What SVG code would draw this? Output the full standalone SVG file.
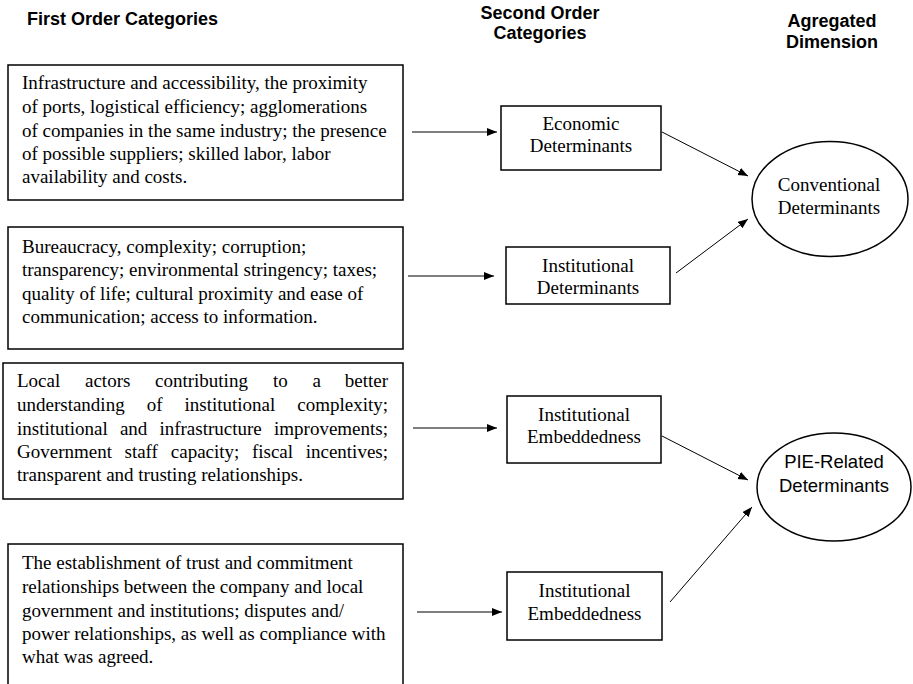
<svg xmlns="http://www.w3.org/2000/svg" width="913" height="684" viewBox="0 0 913 684">
<style>
.hdr{font-family:"Liberation Sans",Arial,sans-serif;font-weight:bold;font-size:18px;fill:#000}
.t{font-family:"Liberation Serif","Times New Roman",serif;font-size:19px;fill:#000}
.s{font-family:"Liberation Sans",Arial,sans-serif;font-size:18.5px;fill:#000}
.box{fill:#fff;stroke:#000;stroke-width:1.5}
.conn line{stroke:#000;stroke-width:1;marker-end:url(#ah)}
</style>
<defs>
<marker id="ah" markerUnits="userSpaceOnUse" markerWidth="11" markerHeight="9" refX="10" refY="4" orient="auto">
<path d="M0,0 L10,4 L0,8 z" fill="#000"/>
</marker>
</defs>
<rect width="913" height="684" fill="#fff"/>
<g id="headers">
<text class="hdr" x="27" y="25">First Order Categories</text>
<text class="hdr" x="540" y="19" text-anchor="middle">Second Order</text>
<text class="hdr" x="540" y="39" text-anchor="middle">Categories</text>
<text class="hdr" x="832" y="27" text-anchor="middle">Agregated</text>
<text class="hdr" x="832" y="48" text-anchor="middle">Dimension</text>
</g>
<g id="fo1">
<rect class="box" x="8" y="65" width="395" height="135"/>
<text class="t" x="22" y="89">Infrastructure and accessibility, the proximity</text>
<text class="t" x="22" y="113">of ports, logistical efficiency; agglomerations</text>
<text class="t" x="22" y="137">of companies in the same industry; the presence</text>
<text class="t" x="22" y="160">of possible suppliers; skilled labor, labor</text>
<text class="t" x="22" y="183">availability and costs.</text>
</g>
<g id="fo2">
<rect class="box" x="8" y="227" width="395" height="122"/>
<text class="t" x="22" y="253">Bureaucracy, complexity; corruption;</text>
<text class="t" x="22" y="276">transparency; environmental stringency; taxes;</text>
<text class="t" x="22" y="299.5">quality of life; cultural proximity and ease of</text>
<text class="t" x="22" y="323">communication; access to information.</text>
</g>
<g id="fo3">
<rect class="box" x="3" y="363" width="400" height="136"/>
<text class="t" y="387"><tspan x="17">Local</tspan><tspan x="85">actors</tspan><tspan x="155">contributing</tspan><tspan x="273">to</tspan><tspan x="312.5">a</tspan><tspan x="388" text-anchor="end">better</tspan></text>
<text class="t" y="411"><tspan x="17">understanding</tspan><tspan x="146.7">of</tspan><tspan x="184.5">institutional</tspan><tspan x="388" text-anchor="end">complexity;</tspan></text>
<text class="t" y="435"><tspan x="17">institutional</tspan><tspan x="119.9">and</tspan><tspan x="159.4">infrastructure</tspan><tspan x="388" text-anchor="end">improvements;</tspan></text>
<text class="t" y="458"><tspan x="17">Government</tspan><tspan x="124.5">staff</tspan><tspan x="170.8">capacity;</tspan><tspan x="251.9">fiscal</tspan><tspan x="388" text-anchor="end">incentives;</tspan></text>
<text class="t" x="17" y="481">transparent and trusting relationships.</text>
</g>
<g id="fo4">
<rect class="box" x="8" y="544" width="395" height="150"/>
<text class="t" x="22" y="569">The establishment of trust and commitment</text>
<text class="t" x="22" y="593">relationships between the company and local</text>
<text class="t" x="22" y="617">government and institutions; disputes and/</text>
<text class="t" x="22" y="640">power relationships, as well as compliance with</text>
<text class="t" x="22" y="663">what was agreed.</text>
</g>
<g id="so1">
<rect class="box" x="501" y="106" width="160" height="64"/>
<text class="t" x="581" y="130" text-anchor="middle">Economic</text>
<text class="t" x="581" y="152" text-anchor="middle">Determinants</text>
</g>
<g id="so2">
<rect class="box" x="506" y="247" width="164" height="57"/>
<text class="t" x="588" y="272" text-anchor="middle">Institutional</text>
<text class="t" x="588" y="294" text-anchor="middle">Determinants</text>
</g>
<g id="so3">
<rect class="box" x="507" y="396" width="154" height="67"/>
<text class="t" x="584" y="421" text-anchor="middle">Institutional</text>
<text class="t" x="584" y="443" text-anchor="middle">Embeddedness</text>
</g>
<g id="so4">
<rect class="box" x="507" y="572" width="155" height="68"/>
<text class="t" x="584.5" y="597" text-anchor="middle">Institutional</text>
<text class="t" x="584.5" y="620" text-anchor="middle">Embeddedness</text>
</g>
<g id="ad1">
<ellipse class="box" cx="830" cy="199" rx="78" ry="57.5"/>
<text class="t" x="829" y="191" text-anchor="middle">Conventional</text>
<text class="t" x="829" y="213.5" text-anchor="middle">Determinants</text>
</g>
<g id="ad2">
<ellipse class="box" cx="834" cy="487" rx="77" ry="54"/>
<text class="s" x="834" y="468" text-anchor="middle">PIE-Related</text>
<text class="s" x="834" y="492" text-anchor="middle">Determinants</text>
</g>
<g id="connectors" class="conn">
<line x1="412" y1="132" x2="497" y2="132"/>
<line x1="408" y1="276" x2="494" y2="276"/>
<line x1="413" y1="428" x2="497" y2="428"/>
<line x1="417" y1="612" x2="502" y2="612"/>
<line x1="662" y1="132" x2="748" y2="176"/>
<line x1="676" y1="273" x2="748" y2="219"/>
<line x1="662" y1="436" x2="748" y2="480"/>
<line x1="670" y1="602" x2="752" y2="507"/>
</g>
</svg>
